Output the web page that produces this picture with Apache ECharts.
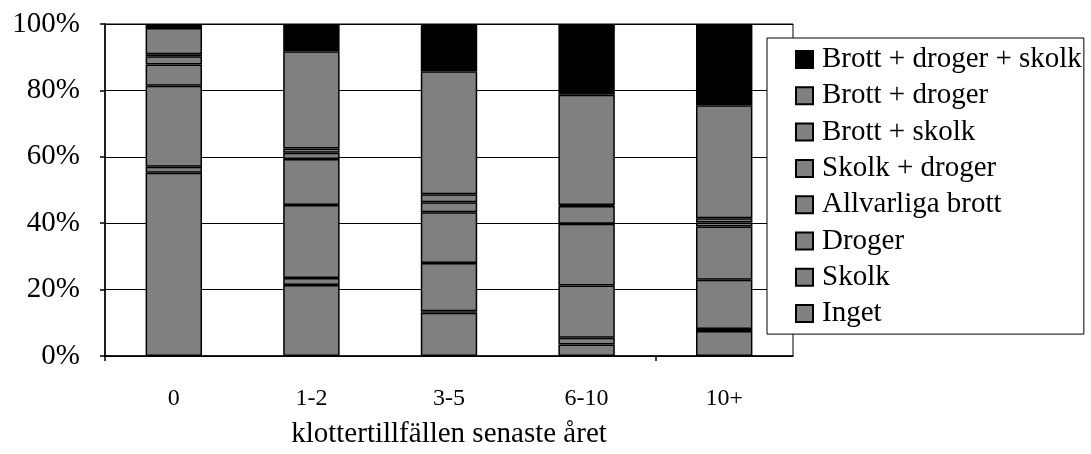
<!DOCTYPE html>
<html>
<head>
<meta charset="utf-8">
<script src="https://cdn.jsdelivr.net/npm/echarts@6/dist/echarts.min.js"></script>
<style>html,body{margin:0;padding:0;background:#fff;}#c{width:1091px;height:454px;}</style>
</head>
<body>
<div id="c"></div>
<script>
const categories = ['0', '1-2', '3-5', '6-10', '10+'];
const xTickPositions = [0, 4];
const yTicks = [0, 20, 40, 60, 80, 100];
const inget = [55.2, 21.4, 13.0, 3.5, 7.5];
const skolk = [1.8, 2.1, 0.5, 2.0, 0.6];
const droger = [24.4, 22.0, 14.5, 15.7, 14.9];
const allvarligaBrott = [6.4, 13.8, 15.3, 18.6, 16.0];
const skolkDroger = [2.5, 1.9, 3.0, 5.4, 1.2];
const brottSkolk = [0.6, 1.3, 2.4, 0.3, 1.3];
const brottDroger = [7.9, 29.3, 37.1, 33.2, 34.0];
const brottDrogerSkolk = [1.2, 8.2, 14.2, 21.3, 24.5];

const seriesDefs = [
  ['Inget', inget, '#808080'],
  ['Skolk', skolk, '#808080'],
  ['Droger', droger, '#808080'],
  ['Allvarliga brott', allvarligaBrott, '#808080'],
  ['Skolk + droger', skolkDroger, '#808080'],
  ['Brott + skolk', brottSkolk, '#808080'],
  ['Brott + droger', brottDroger, '#808080'],
  ['Brott + droger + skolk', brottDrogerSkolk, '#000000']
];

const FONT = 'Liberation Serif';
const chart = echarts.init(document.getElementById('c'), null, {renderer: 'canvas'});
chart.setOption({
  animation: false,
  backgroundColor: '#fff',
  textStyle: {fontFamily: FONT, color: '#000'},
  grid: {left: 105, right: 298, top: 24, bottom: 96, show: true, borderColor: '#000', borderWidth: 1, backgroundColor: 'transparent'},
  legend: {
    orient: 'vertical',
    left: 767, top: 38,
    padding: [7, 2, 6, 28],
    itemGap: 7.3,
    itemWidth: 17, itemHeight: 17,
    backgroundColor: '#fff',
    borderColor: '#000', borderWidth: 1,
    textStyle: {fontFamily: FONT, fontSize: 29, color: '#000', lineHeight: 29, padding: [0, 0, 0, 4]},
    data: seriesDefs.map(d => d[0]).slice().reverse(),
    icon: 'rect'
  },
  xAxis: [{
    type: 'category',
    data: categories,
    name: 'klottertillfällen senaste året',
    nameLocation: 'middle',
    nameGap: 64,
    nameTextStyle: {fontFamily: FONT, fontSize: 29, color: '#000'},
    axisLine: {lineStyle: {color: '#000', width: 1.5}},
    axisTick: {show: false},
    axisLabel: {fontFamily: FONT, fontSize: 24, color: '#000', margin: 31, interval: 0}
  }, {
    type: 'value',
    position: 'bottom',
    min: 0, max: categories.length,
    axisLine: {show: false},
    axisLabel: {show: false},
    splitLine: {show: false},
    axisTick: {show: true, length: 5, lineStyle: {color: '#000', width: 1.5}, customValues: xTickPositions}
  }],
  yAxis: {
    type: 'value',
    min: yTicks[0], max: yTicks[yTicks.length - 1], interval: 20,
    axisLine: {show: true, lineStyle: {color: '#000', width: 1.5}},
    axisTick: {show: true, length: 5, lineStyle: {color: '#000', width: 1.5}},
    axisLabel: {fontFamily: FONT, fontSize: 29, color: '#000', margin: 25, formatter: '{value}%'},
    splitLine: {show: true, lineStyle: {color: '#000', width: 1}}
  },
  series: seriesDefs.map(([name, data, color]) => ({
    name, type: 'bar', stack: 'all', data,
    xAxisIndex: 0,
    barWidth: '41%',
    itemStyle: {color, borderColor: '#000', borderWidth: 1.5},
    emphasis: {disabled: true}
  }))
});
</script>
</body>
</html>
